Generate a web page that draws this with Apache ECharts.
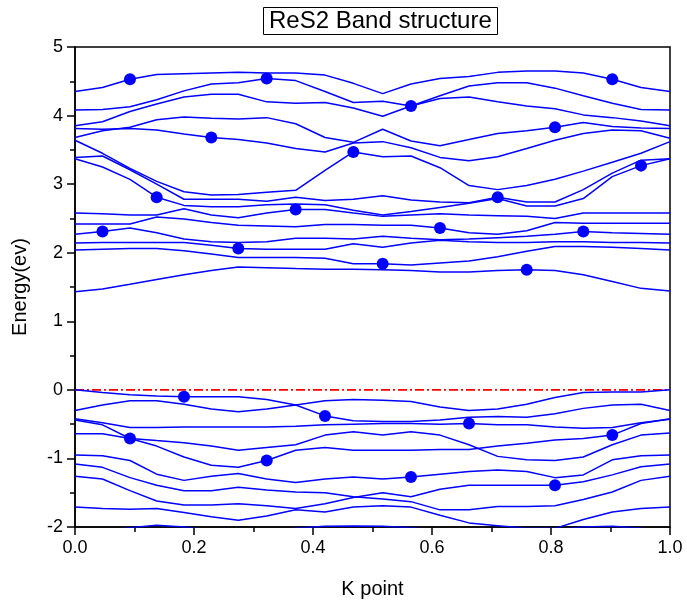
<!DOCTYPE html>
<html>
<head>
<meta charset="utf-8">
<script src="https://cdn.jsdelivr.net/npm/echarts@6/dist/echarts.min.js"></script>
<style>
html,body{margin:0;padding:0;background:#fff;}
#chart{width:687px;height:607px;}
</style>
</head>
<body>
<div id="chart"></div>
<script>
// k-point positions (x axis)
const kx = [0, 0.0462, 0.0924, 0.1373, 0.1832, 0.2291, 0.2745, 0.3222, 0.3709, 0.4202, 0.4678,
            0.5171, 0.5647, 0.6134, 0.6622, 0.7104, 0.7592, 0.8067, 0.8543, 0.9030, 0.9513, 1.0];

// conduction bands (eV)
const bandA = [4.35,4.41,4.53,4.60,4.61,4.62,4.63,4.62,4.62,4.59,4.47,4.32,4.46,4.54,4.57,4.63,4.65,4.65,4.62,4.53,4.41,4.35];
const bandB = [4.08,4.09,4.13,4.23,4.36,4.46,4.48,4.54,4.51,4.35,4.19,4.21,4.14,4.29,4.43,4.48,4.48,4.40,4.29,4.18,4.09,4.08];
const bandC = [3.85,3.91,4.06,4.17,4.27,4.31,4.31,4.20,4.18,4.19,4.11,3.99,4.14,4.25,4.27,4.20,4.14,4.10,4.01,3.97,3.92,3.85];
const bandD = [3.81,3.80,3.81,3.79,3.73,3.68,3.65,3.60,3.52,3.47,3.60,3.62,3.53,3.39,3.34,3.40,3.52,3.64,3.74,3.79,3.78,3.67];
const bandE = [3.68,3.78,3.83,3.94,3.98,3.96,3.95,3.97,3.88,3.68,3.61,3.80,3.63,3.56,3.65,3.74,3.78,3.83,3.90,3.84,3.82,3.81];
const bandR = [3.64,3.45,3.23,3.04,2.89,2.84,2.85,2.88,2.91,3.20,3.47,3.40,3.41,3.24,2.98,2.92,2.98,3.07,3.19,3.32,3.45,3.62];
const bandW = [3.39,3.41,3.21,3.00,2.78,2.78,2.78,2.75,2.81,2.76,2.78,2.83,2.77,2.74,2.73,2.81,2.74,2.74,2.92,3.16,3.35,3.37];
const bandZ = [3.37,3.25,3.07,2.81,2.69,2.67,2.67,2.70,2.71,2.70,2.62,2.55,2.60,2.66,2.72,2.79,2.68,2.68,2.79,3.11,3.27,3.37];
const bandY = [2.58,2.57,2.55,2.55,2.64,2.55,2.51,2.58,2.63,2.63,2.58,2.53,2.55,2.57,2.55,2.54,2.53,2.50,2.58,2.58,2.58,2.58];
const bandF = [2.42,2.42,2.42,2.52,2.49,2.44,2.40,2.39,2.38,2.41,2.41,2.40,2.40,2.36,2.29,2.27,2.32,2.44,2.43,2.43,2.43,2.43];
const bandG = [2.27,2.31,2.36,2.29,2.20,2.16,2.15,2.16,2.21,2.21,2.20,2.24,2.21,2.19,2.20,2.22,2.24,2.27,2.31,2.29,2.28,2.27];
const bandH = [2.14,2.15,2.15,2.15,2.15,2.11,2.06,2.05,2.05,2.05,2.13,2.08,2.14,2.18,2.16,2.15,2.15,2.16,2.16,2.15,2.15,2.14];
const bandI = [2.04,2.05,2.06,2.06,2.03,1.98,1.93,1.93,1.93,1.92,1.84,1.84,1.82,1.85,1.88,1.94,2.02,2.09,2.09,2.08,2.06,2.04];
const bandJ = [1.43,1.47,1.54,1.61,1.68,1.74,1.79,1.78,1.77,1.76,1.76,1.75,1.74,1.72,1.72,1.74,1.75,1.74,1.68,1.58,1.48,1.44];

// valence bands (eV)
const bandV1 = [0.00,-0.04,-0.07,-0.09,-0.10,-0.10,-0.10,-0.14,-0.22,-0.38,-0.45,-0.46,-0.46,-0.44,-0.40,-0.39,-0.40,-0.35,-0.27,-0.22,-0.21,-0.30];
const bandV2 = [-0.30,-0.22,-0.16,-0.16,-0.21,-0.28,-0.32,-0.28,-0.22,-0.16,-0.14,-0.15,-0.17,-0.25,-0.30,-0.28,-0.21,-0.11,-0.04,-0.03,-0.03,0.00];
const bandV3 = [-0.42,-0.48,-0.55,-0.55,-0.54,-0.54,-0.54,-0.54,-0.53,-0.51,-0.50,-0.49,-0.49,-0.50,-0.49,-0.51,-0.51,-0.54,-0.56,-0.55,-0.48,-0.43];
const bandV4 = [-0.44,-0.51,-0.71,-0.82,-0.98,-1.10,-1.13,-1.03,-0.88,-0.84,-0.88,-0.88,-0.88,-0.87,-0.87,-0.82,-0.78,-0.73,-0.71,-0.66,-0.49,-0.42];
const bandV5 = [-0.64,-0.64,-0.71,-0.74,-0.77,-0.82,-0.88,-0.84,-0.80,-0.66,-0.61,-0.66,-0.61,-0.66,-0.80,-0.97,-1.02,-1.03,-0.98,-0.80,-0.66,-0.63];
const bandV6 = [-0.95,-0.96,-1.03,-1.23,-1.32,-1.26,-1.22,-1.30,-1.35,-1.30,-1.27,-1.30,-1.27,-1.23,-1.19,-1.17,-1.19,-1.28,-1.24,-1.02,-0.96,-0.95];
const bandV7 = [-1.08,-1.13,-1.28,-1.39,-1.47,-1.47,-1.42,-1.46,-1.49,-1.50,-1.56,-1.59,-1.63,-1.75,-1.75,-1.70,-1.70,-1.69,-1.60,-1.49,-1.32,-1.26];
const bandV8 = [-1.26,-1.30,-1.47,-1.62,-1.68,-1.68,-1.66,-1.69,-1.73,-1.66,-1.57,-1.50,-1.56,-1.45,-1.39,-1.39,-1.39,-1.39,-1.34,-1.24,-1.12,-1.08];
const bandV9 = [-1.71,-1.73,-1.74,-1.73,-1.79,-1.85,-1.90,-1.84,-1.75,-1.78,-1.71,-1.69,-1.71,-1.83,-1.94,-1.98,-2.02,-2.02,-1.89,-1.78,-1.73,-1.71];
const bandV10 = [-2.12,-2.06,-2.01,-1.975,-2.00,-2.05,-2.06,-2.05,-2.02,-1.99,-1.985,-1.99,-2.01,-2.05,-2.08,-2.10,-2.08,-2.04,-2.00,-1.99,-2.02,-2.06];

// which k indices carry a symbol on each band
const markerIdx = {
  A:[2,19], B:[7,12], C:[], D:[5], E:[17], R:[10], W:[15], Z:[3,20], Y:[8],
  F:[13], G:[1,18], H:[6], I:[11], J:[16],
  V1:[4,9], V2:[], V3:[14], V4:[2,7,19], V5:[], V6:[12], V7:[], V8:[17], V9:[], V10:[]
};

const bands = {
  A:bandA, B:bandB, C:bandC, D:bandD, E:bandE, R:bandR, W:bandW, Z:bandZ, Y:bandY,
  F:bandF, G:bandG, H:bandH, I:bandI, J:bandJ,
  V1:bandV1, V2:bandV2, V3:bandV3, V4:bandV4, V5:bandV5, V6:bandV6, V7:bandV7, V8:bandV8, V9:bandV9, V10:bandV10
};

const xTicks = [0, 0.2, 0.4, 0.6, 0.8, 1.0];
const yTicks = [-2, -1, 0, 1, 2, 3, 4, 5];

const FONT = 'Liberation Sans, Arial, sans-serif';
const BLUE = '#0000ff';

const series = [];
const markPts = [];
Object.keys(bands).forEach(function (key) {
  const b = bands[key];
  series.push({
    type: 'line',
    data: kx.map(function (x, i) { return [x, b[i]]; }),
    showSymbol: false,
    symbol: 'none',
    lineStyle: { color: BLUE, width: 1.5 },
    clip: true,
    silent: true,
    z: 3
  });
  markerIdx[key].forEach(function (i) { markPts.push([kx[i], b[i]]); });
});

// Fermi level line
series.push({
  type: 'line',
  data: [[xTicks[0], 0], [xTicks[xTicks.length - 1], 0]],
  symbol: 'none',
  lineStyle: { color: '#ff0000', width: 1.6, type: [9, 3, 2, 3] },
  z: 2
});

series.push({
  type: 'scatter',
  data: markPts,
  symbol: 'circle',
  symbolSize: 12,
  itemStyle: { color: BLUE, opacity: 1 },
  clip: true,
  z: 4
});

const chart = echarts.init(document.getElementById('chart'), null, { renderer: 'canvas' });
chart.setOption({
  animation: false,
  backgroundColor: '#fff',
  title: {
    text: 'ReS2 Band structure',
    left: 263,
    top: 7,
    padding: [2, 6, 2, 6],
    borderColor: '#000',
    borderWidth: 1,
    textStyle: { fontFamily: FONT, fontSize: 24, fontWeight: 'normal', color: '#000' }
  },
  grid: {
    left: 75, right: 17, top: 47, bottom: 80,
    show: true, borderColor: '#000', borderWidth: 1.5, backgroundColor: 'transparent'
  },
  xAxis: {
    type: 'value',
    min: xTicks[0], max: xTicks[xTicks.length - 1], interval: 0.2,
    name: 'K point', nameLocation: 'middle', nameGap: 52,
    nameTextStyle: { fontFamily: FONT, fontSize: 20, color: '#000' },
    axisLine: { show: true, onZero: false, lineStyle: { color: '#000', width: 1.5 } },
    axisTick: { show: true, inside: false, length: 8, lineStyle: { color: '#000', width: 1.5 } },
    minorTick: { show: true, splitNumber: 2, length: 5, lineStyle: { color: '#000', width: 1.5 } },
    splitLine: { show: false },
    axisLabel: { fontFamily: FONT, fontSize: 18, color: '#000', margin: 12,
                 formatter: function (v) { return v.toFixed(1); } }
  },
  yAxis: {
    type: 'value',
    min: yTicks[0], max: yTicks[yTicks.length - 1], interval: 1,
    name: 'Energy(ev)', nameLocation: 'middle', nameGap: 45,
    nameTextStyle: { fontFamily: FONT, fontSize: 20, color: '#000' },
    axisLine: { show: true, onZero: false, lineStyle: { color: '#000', width: 1.5 } },
    axisTick: { show: true, inside: false, length: 8, lineStyle: { color: '#000', width: 1.5 } },
    minorTick: { show: true, splitNumber: 2, length: 5, lineStyle: { color: '#000', width: 1.5 } },
    splitLine: { show: false },
    axisLabel: { fontFamily: FONT, fontSize: 18, color: '#000', margin: 12 }
  },
  series: series
});
</script>
</body>
</html>
